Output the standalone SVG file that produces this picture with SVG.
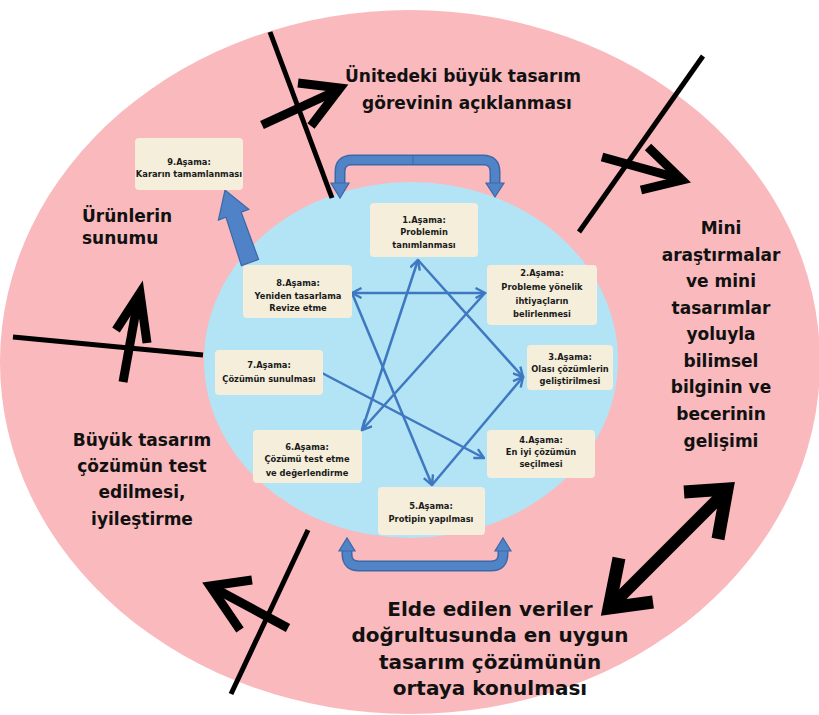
<svg xmlns="http://www.w3.org/2000/svg" width="819" height="715" viewBox="0 0 819 715">
<style>
.box{fill:#f4eedb;stroke:none}
.bt{font-family:"DejaVu Sans","Liberation Sans",sans-serif;font-weight:bold;font-size:8.3px;fill:#1a1a1a;text-anchor:middle}
.big{font-family:"DejaVu Sans","Liberation Sans",sans-serif;font-weight:bold;font-size:17px;fill:#111;text-anchor:middle}
.bot{font-size:20px}
.bl{stroke:#3f77c0;stroke-width:2.5;fill:none}
.div{stroke:#000;stroke-width:5;fill:none;stroke-linecap:butt}
.arr{stroke:#000;stroke-width:9;fill:none;stroke-linejoin:miter;stroke-miterlimit:10}
</style>
<defs>
<marker id="chev" viewBox="0 0 12 12" refX="10.5" refY="6" markerWidth="12" markerHeight="12" markerUnits="userSpaceOnUse" orient="auto-start-reverse">
<path d="M1,1 L10.5,6 L1,11" fill="none" stroke="#3f77c0" stroke-width="2.4"/>
</marker>
</defs>
<rect width="819" height="715" fill="#ffffff"/>
<ellipse cx="410" cy="362" rx="410" ry="352" fill="#f9b9bd"/>
<ellipse cx="411" cy="360" rx="207" ry="178" fill="#b2e4f6"/>

<g id="dividers">
<line class="div" x1="270" y1="32" x2="332" y2="198"/>
<line class="div" x1="703" y1="56" x2="579" y2="232"/>
<line class="div" x1="13" y1="337" x2="203" y2="355"/>
<line class="div" x1="308" y1="530" x2="231" y2="694"/>
</g>

<g id="black-arrows">
<line class="arr" x1="262" y1="125" x2="338" y2="90"/>
<polyline class="arr" points="298,83 340,88 311,126"/>
<line class="arr" x1="602" y1="157" x2="681" y2="179"/>
<polyline class="arr" points="648,147 682,180 641,190"/>
<line class="arr" x1="123" y1="382" x2="139" y2="294"/>
<polyline class="arr" points="116,330 140,293 147,343"/>
<line class="arr" x1="288" y1="628" x2="212" y2="587"/>
<polyline class="arr" points="252,580 210,586 240,630"/>
<line stroke="#000" stroke-width="12" x1="612" y1="605" x2="725" y2="492"/>
<polyline fill="none" stroke="#000" stroke-width="13" stroke-miterlimit="10" points="684,492 727,489 718,539"/>
<polyline fill="none" stroke="#000" stroke-width="13" stroke-miterlimit="10" points="619,558 609,608 653,602"/>
</g>

<g id="brackets">
<path d="M340,184 L340,172 Q340,160 352,160 L483,160 Q495,160 495,172 L495,184" fill="none" stroke="#3a68a8" stroke-width="11"/>
<path d="M340,184 L340,172 Q340,160 352,160 L483,160 Q495,160 495,172 L495,184" fill="none" stroke="#5084c6" stroke-width="8"/>
<line x1="413" y1="155" x2="413" y2="165" stroke="#3a68a8" stroke-width="1"/>
<polygon points="331,183 349,183 340,198" fill="#5084c6" stroke="#3a68a8" stroke-width="1.2"/>
<polygon points="486,183 504,183 495,197" fill="#5084c6" stroke="#3a68a8" stroke-width="1.2"/>
<path d="M347,550 L347,554 Q347,566 359,566 L491,566 Q503,566 503,554 L503,550" fill="none" stroke="#3a68a8" stroke-width="11"/>
<path d="M347,550 L347,554 Q347,566 359,566 L491,566 Q503,566 503,554 L503,550" fill="none" stroke="#5084c6" stroke-width="8"/>
<polygon points="339,551 355,551 347,538" fill="#5084c6" stroke="#3a68a8" stroke-width="1.2"/>
<polygon points="495,551 511,551 503,538" fill="#5084c6" stroke="#3a68a8" stroke-width="1.2"/>
<polygon points="241.4,265.6 258.6,259.4 241.2,212.1 248.8,209.4 225,190 218.4,220 226,217.3" fill="#4f82c6" stroke="#3a68a8" stroke-width="1.2"/>
</g>

<g id="connectors">
<line class="bl" x1="352" y1="293" x2="485" y2="293" marker-start="url(#chev)" marker-end="url(#chev)"/>
<line class="bl" x1="362" y1="430" x2="418" y2="260" marker-end="url(#chev)"/>
<line class="bl" x1="485" y1="293" x2="362" y2="430" marker-end="url(#chev)"/>
<line class="bl" x1="418" y1="260" x2="523" y2="377" marker-end="url(#chev)"/>
<line class="bl" x1="352" y1="293" x2="432" y2="485" marker-end="url(#chev)"/>
<line class="bl" x1="432" y1="485" x2="523" y2="377" marker-end="url(#chev)"/>
<line class="bl" x1="322" y1="373" x2="484" y2="458" marker-end="url(#chev)"/>
</g>

<g id="stage9"><rect class="box" x="135" y="138" width="108" height="52" rx="4"/>
<text class="bt" x="189" y="165">9.Aşama:</text><text class="bt" x="189" y="177">Kararın tamamlanması</text></g>
<g id="stage1"><rect class="box" x="370" y="203" width="108" height="54" rx="4"/>
<text class="bt" x="424" y="223">1.Aşama:</text><text class="bt" x="424" y="235">Problemin</text><text class="bt" x="424" y="248">tanımlanması</text></g>
<g id="stage2"><rect class="box" x="487" y="265" width="110" height="60" rx="4"/>
<text class="bt" x="542" y="276">2.Aşama:</text><text class="bt" x="542" y="290">Probleme yönelik</text><text class="bt" x="542" y="304">ihtiyaçların</text><text class="bt" x="542" y="317">belirlenmesi</text></g>
<g id="stage8"><rect class="box" x="243" y="265" width="109" height="53" rx="4"/>
<text class="bt" x="298" y="286">8.Aşama:</text><text class="bt" x="298" y="299">Yeniden tasarlama</text><text class="bt" x="298" y="311">Revize etme</text></g>
<g id="stage7"><rect class="box" x="215" y="350" width="108" height="45" rx="4"/>
<text class="bt" x="269" y="368">7.Aşama:</text><text class="bt" x="269" y="382">Çözümün sunulması</text></g>
<g id="stage3"><rect class="box" x="527" y="345" width="86" height="45" rx="4"/>
<text class="bt" x="570" y="360">3.Aşama:</text><text class="bt" x="570" y="372">Olası çözümlerin</text><text class="bt" x="570" y="384">geliştirilmesi</text></g>
<g id="stage4"><rect class="box" x="487" y="430" width="108" height="48" rx="4"/>
<text class="bt" x="541" y="443">4.Aşama:</text><text class="bt" x="541" y="455">En iyi çözümün</text><text class="bt" x="541" y="467">seçilmesi</text></g>
<g id="stage6"><rect class="box" x="253" y="430" width="109" height="53" rx="4"/>
<text class="bt" x="307" y="450">6.Aşama:</text><text class="bt" x="307" y="462">Çözümü test etme</text><text class="bt" x="307" y="476">ve değerlendirme</text></g>
<g id="stage5"><rect class="box" x="378" y="487" width="107" height="48" rx="4"/>
<text class="bt" x="431" y="509">5.Aşama:</text><text class="bt" x="431" y="522">Protipin yapılması</text></g>

<g id="labels">
<text class="big" x="463" y="82">Ünitedeki büyük tasarım</text>
<text class="big" x="467" y="109">görevinin açıklanması</text>
<text class="big" x="721" y="234">Mini</text>
<text class="big" x="721" y="261">araştırmalar</text>
<text class="big" x="721" y="287">ve mini</text>
<text class="big" x="721" y="314">tasarımlar</text>
<text class="big" x="721" y="340">yoluyla</text>
<text class="big" x="721" y="367">bilimsel</text>
<text class="big" x="721" y="393">bilginin ve</text>
<text class="big" x="721" y="420">becerinin</text>
<text class="big" x="721" y="447">gelişimi</text>
<text class="big" x="82" y="222" style="text-anchor:start">Ürünlerin</text>
<text class="big" x="82" y="244" style="text-anchor:start">sunumu</text>
<text class="big" x="142" y="446">Büyük tasarım</text>
<text class="big" x="142" y="472">çözümün test</text>
<text class="big" x="142" y="498">edilmesi,</text>
<text class="big" x="142" y="525">iyileştirme</text>
<text class="big bot" x="490" y="616">Elde edilen veriler</text>
<text class="big bot" x="490" y="642">doğrultusunda en uygun</text>
<text class="big bot" x="490" y="669">tasarım çözümünün</text>
<text class="big bot" x="490" y="695">ortaya konulması</text>
</g>
</svg>
